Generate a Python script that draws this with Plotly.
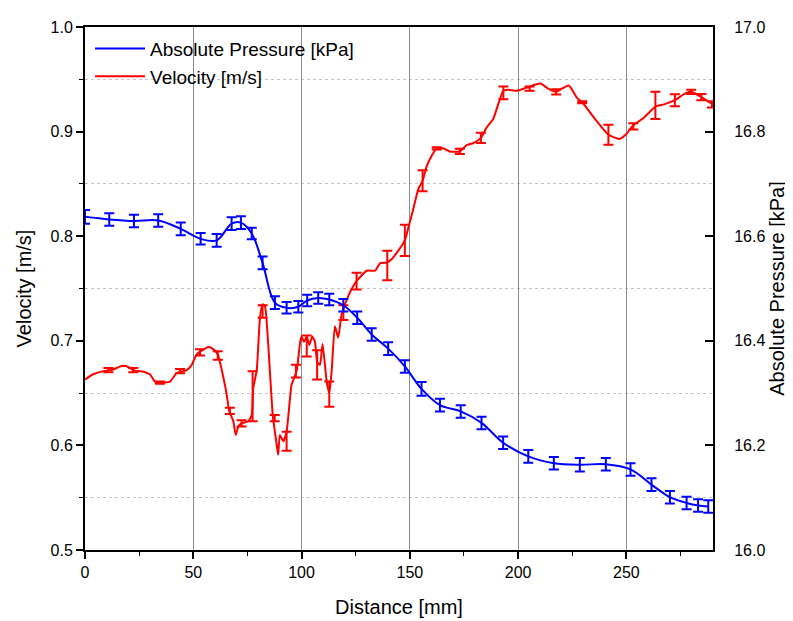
import plotly.graph_objects as go

# ---------------- data ----------------
# Absolute pressure (right axis, kPa) - points with error bars
p_dist = [0.0, 11.2, 22.6, 33.8, 44.2, 53.4, 60.8, 67.7, 72.0, 77.0, 82.0, 87.7, 93.1,
          98.5, 102.6, 107.7, 112.8, 119.3, 125.7, 132.4, 140.0, 147.7, 155.4, 163.9,
          173.5, 183.1, 193.1, 204.7, 216.5, 228.5, 240.5, 251.9, 261.6, 270.1, 277.8,
          283.1, 287.8]
p_val = [16.637, 16.632, 16.629, 16.630, 16.614, 16.595, 16.592, 16.624, 16.626, 16.605,
         16.549, 16.473, 16.463, 16.465, 16.477, 16.482, 16.479, 16.468, 16.444, 16.412,
         16.385, 16.351, 16.308, 16.277, 16.265, 16.243, 16.205, 16.179, 16.166, 16.163,
         16.164, 16.154, 16.125, 16.101, 16.090, 16.085, 16.083]
p_err = [0.013, 0.012, 0.012, 0.012, 0.012, 0.011, 0.012, 0.012, 0.012, 0.011,
         0.012, 0.012, 0.011, 0.011, 0.011, 0.011, 0.011, 0.012, 0.012, 0.012,
         0.012, 0.012, 0.013, 0.012, 0.012, 0.012, 0.012, 0.012, 0.012, 0.013,
         0.012, 0.012, 0.012, 0.012, 0.012, 0.012, 0.012]

# Velocity (left axis, m/s) - line
v_dist = [0.0, 3.8, 8.4, 12.3, 16.9, 20.0, 22.3, 27.7, 30.0, 32.3, 34.6, 39.2, 42.3,
          47.0, 49.3, 51.6, 56.9, 59.2, 61.3, 63.9, 65.4, 66.6, 68.5, 69.6, 70.8, 72.3,
          75.4, 77.0, 77.7, 79.3, 80.8, 82.0, 83.1, 84.6, 86.7, 88.5, 89.2, 90.0, 91.6,
          93.1, 95.4, 97.7, 99.3, 100.0, 101.1, 102.4, 103.6, 104.9, 106.2, 107.2, 108.5,
          109.7, 111.6, 112.8, 113.9, 115.4, 116.9, 118.5, 121.6, 125.4, 130.1, 133.9,
          136.2, 139.6, 141.6, 144.6, 147.7, 149.3, 151.6, 153.9, 155.9, 157.8, 160.1,
          162.4, 165.4, 168.5, 173.1, 176.2, 179.3, 182.8, 185.5, 188.5, 190.8, 193.2,
          195.4, 199.3, 203.9, 210.3, 213.9, 217.6, 220.2, 223.4, 227.3, 229.6, 235.9,
          241.7, 246.9, 250.1, 253.2, 257.9, 263.4, 267.4, 272.4, 276.8, 279.9, 284.6,
          290.0]
v_val = [0.663, 0.668, 0.671, 0.672, 0.676, 0.675, 0.672, 0.670, 0.668, 0.661, 0.660,
         0.661, 0.669, 0.672, 0.677, 0.687, 0.694, 0.692, 0.687, 0.665, 0.649, 0.633,
         0.623, 0.610, 0.618, 0.621, 0.623, 0.629, 0.655, 0.672, 0.722, 0.735, 0.733,
         0.697, 0.629, 0.601, 0.591, 0.610, 0.604, 0.613, 0.658, 0.671, 0.698, 0.704,
         0.699, 0.704, 0.696, 0.704, 0.699, 0.680, 0.677, 0.697, 0.661, 0.650, 0.671,
         0.714, 0.703, 0.725, 0.743, 0.757, 0.767, 0.767, 0.774, 0.775, 0.778, 0.786,
         0.796, 0.808, 0.826, 0.845, 0.853, 0.867, 0.877, 0.884, 0.884, 0.881, 0.881,
         0.887, 0.889, 0.894, 0.904, 0.912, 0.926, 0.939, 0.940, 0.939, 0.942, 0.946,
         0.941, 0.938, 0.941, 0.944, 0.932, 0.928, 0.911, 0.897, 0.893, 0.898, 0.906,
         0.913, 0.924, 0.926, 0.930, 0.936, 0.938, 0.933, 0.926]

# Velocity error bars
ve_dist = [10.8, 22.3, 34.6, 43.9, 53.1, 61.3, 66.9, 72.3, 77.4, 82.0, 87.6, 93.1, 97.4,
           102.4, 107.2, 112.8, 119.3, 125.4, 139.6, 147.7, 155.9, 162.4, 173.1, 182.8,
           193.2, 205.3, 217.6, 229.6, 241.7, 253.2, 263.4, 272.4, 279.9, 284.6, 289.5]
ve_val = [0.672, 0.672, 0.660, 0.671, 0.689, 0.686, 0.633, 0.621, 0.647, 0.728, 0.626,
          0.604, 0.671, 0.695, 0.677, 0.649, 0.727, 0.757, 0.772, 0.796, 0.853, 0.884,
          0.881, 0.894, 0.937, 0.941, 0.938, 0.928, 0.897, 0.905, 0.925, 0.930, 0.938,
          0.933, 0.926]
ve_err = [0.002, 0.002, 0.001, 0.002, 0.003, 0.004, 0.003, 0.003, 0.024, 0.006, 0.003,
          0.009, 0.006, 0.010, 0.014, 0.012, 0.007, 0.008, 0.014, 0.015, 0.010, 0.001,
          0.0025, 0.005, 0.006, 0.002, 0.0025, 0.001, 0.0095, 0.003, 0.013, 0.0057,
          0.002, 0.003, 0.003]

x_ticks = [0, 50, 100, 150, 200, 250]

FONT = "Liberation Sans, Arial, sans-serif"
BLUE = "#0000ff"
RED = "#ff0000"

fig = go.Figure()

fig.add_trace(go.Scatter(
    x=p_dist, y=p_val, yaxis="y2", mode="lines",
    name="Absolute Pressure [kPa]",
    line=dict(color=BLUE, width=2, shape="spline", smoothing=1.0),
    error_y=dict(type="data", array=p_err, visible=True, color=BLUE,
                 thickness=2, width=5),
))

fig.add_trace(go.Scatter(
    x=v_dist, y=v_val, yaxis="y", mode="lines",
    name="Velocity [m/s]",
    line=dict(color=RED, width=2, shape="spline", smoothing=0.5),
))

fig.add_trace(go.Scatter(
    x=ve_dist, y=ve_val, yaxis="y", mode="markers",
    showlegend=False, hoverinfo="skip",
    marker=dict(size=1, color="rgba(0,0,0,0)"),
    error_y=dict(type="data", array=ve_err, visible=True, color=RED,
                 thickness=2, width=5),
))

# page body adds an 8px offset, so the figure is 8px smaller than the window
fig.update_layout(
    width=785, height=613,
    margin=dict(l=77, r=80, t=19, b=71),
    paper_bgcolor="white", plot_bgcolor="white",
    font=dict(family=FONT, size=16, color="black"),
    showlegend=True,
    legend=dict(x=0.008, y=0.995, xanchor="left", yanchor="top",
                bgcolor="rgba(0,0,0,0)", borderwidth=0,
                font=dict(family=FONT, size=19, color="black"),
                itemwidth=50, tracegroupgap=0),
    xaxis=dict(
        range=[0, 290], tickvals=x_ticks, ticktext=[str(t) for t in x_ticks],
        ticks="outside", ticklen=7, tickwidth=1.5, tickcolor="black",
        showline=True, linecolor="black", linewidth=2, mirror=True,
        showgrid=True, gridcolor="#8c8c8c", gridwidth=1, zeroline=False,
        automargin=False,
        minor=dict(dtick=25, ticks="outside", ticklen=4, tickwidth=1.2,
                   tickcolor="black", showgrid=False),
        title=dict(text="Distance [mm]", font=dict(size=20), standoff=20),
        tickfont=dict(size=16),
    ),
    yaxis=dict(
        range=[0.5, 1.0], dtick=0.1, tick0=0.5, tickformat=".1f",
        ticks="outside", ticklen=7, tickwidth=1.5, tickcolor="black",
        showline=True, linecolor="black", linewidth=2,
        showgrid=False, zeroline=False, automargin=False,
        minor=dict(dtick=0.05, ticks="outside", ticklen=4, tickwidth=1.2,
                   tickcolor="black", showgrid=True, gridcolor="#c4c4c4",
                   griddash="dot", gridwidth=1),
        title=dict(text="Velocity [m/s]", font=dict(size=20), standoff=14),
        tickfont=dict(size=16),
    ),
    yaxis2=dict(
        range=[16.0, 17.0], dtick=0.2, tick0=16.0, tickformat=".1f",
        overlaying="y", side="right", anchor="x",
        ticks="inside", ticklen=8, tickwidth=1.5, tickcolor="black",
        showline=True, linecolor="black", linewidth=2,
        showgrid=False, zeroline=False, ticklabelstandoff=16, automargin=False,
        title=dict(text="Absolute Pressure [kPa]", font=dict(size=20), standoff=6),
        tickfont=dict(size=16),
    ),
)

fig.write_html("out.html")
